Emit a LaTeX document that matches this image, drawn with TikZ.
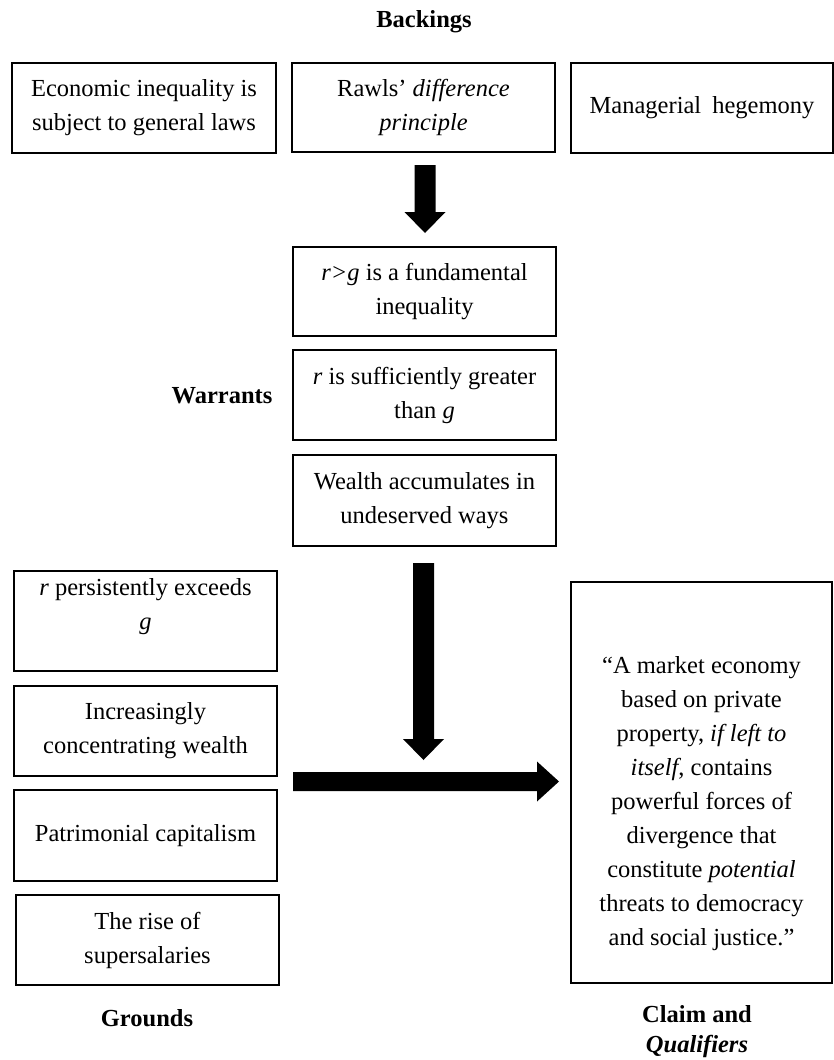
\documentclass[tikz,border=0pt]{standalone}
\usepackage{fontspec}
\setmainfont{Liberation Serif}
\usetikzlibrary{calc}
\newcommand\fatdown[2]{\fill ($(#1)+(-10.5,0)$) -- ($(#1)+(10.5,0)$) -- ($(#2)+(10.5,-21)$) -- ($(#2)+(20.5,-21)$) -- (#2) -- ($(#2)+(-20.5,-21)$) -- ($(#2)+(-10.5,-21)$) -- cycle;}
\newcommand\fatright[2]{\fill ($(#1)+(0,-9.5)$) -- ($(#2)+(-22,-9.5)$) -- ($(#2)+(-22,-20)$) -- (#2) -- ($(#2)+(-22,20)$) -- ($(#2)+(-22,9.5)$) -- ($(#1)+(0,9.5)$) -- cycle;}
\begin{document}
\begin{tikzpicture}[x=1pt,y=-1pt,
  box/.style={draw, line width=1.4pt, inner sep=0pt, align=center, font=\fontsize{24.5}{34}\selectfont},
  lbl/.style={font=\fontsize{24.5}{30}\selectfont\bfseries, align=center, inner sep=0pt}]
\useasboundingbox (0,0) rectangle (834,1060);

\node[lbl] (backings) at (424,22) {Backings};
\node[lbl] (warrants) at (222,396) {Warrants};
\node[lbl] (grounds) at (147,1018) {Grounds};
\node[lbl] (claimlbl) at (697,1032) {Claim and\\\textit{Qualifiers}};

\node[box, minimum width=264pt, minimum height=90pt] (b1) at (144,108) {Economic inequality is\\subject to general laws};
\node[box, minimum width=263pt, minimum height=89pt] (b2) at (423.5,107.5) {Rawls’ \textit{difference}\\\textit{principle}};
\node[box, minimum width=262pt, minimum height=90pt] (b3) at (702,108) {Managerial\hspace{0.45em}hegemony};

\node[box, minimum width=263pt, minimum height=89pt] (w1) at (424.5,291.5) {\textit{r>g} is a fundamental\\inequality};
\node[box, minimum width=263pt, minimum height=90pt] (w2) at (424.5,395) {\textit{r} is sufficiently greater\\than \textit{g}};
\node[box, minimum width=263pt, minimum height=91pt] (w3) at (424.5,500.5) {Wealth accumulates in\\undeserved ways};

\node[box, minimum width=263pt, minimum height=100pt] (g1) at (145.5,621) {\textit{r} persistently exceeds\\\textit{g}\\\mbox{}};
\node[box, minimum width=263pt, minimum height=90pt] (g2) at (145.5,731) {Increasingly\\concentrating wealth};
\node[box, minimum width=263pt, minimum height=91pt] (g3) at (145.5,835.5) {Patrimonial capitalism};
\node[box, minimum width=263pt, minimum height=90pt] (g4) at (147.5,940) {The rise of\\supersalaries};

\node[box, minimum width=261pt, minimum height=401pt] (claim) at (701.5,782.5) {\mbox{}\\[26pt]“A market economy\\based on private\\property, \textit{if left to}\\\textit{itself}, contains\\powerful forces of\\divergence that\\constitute \textit{potential}\\threats to democracy\\and social justice.”};

\coordinate (a1s) at (425,165);
\coordinate (a1e) at (425,233);
\coordinate (a2s) at (423.5,563);
\coordinate (a2e) at (423.5,760);
\coordinate (a3s) at (293,781.5);
\coordinate (a3e) at (559,781.5);
\fatdown{a1s}{a1e}
\fatdown{a2s}{a2e}
\fatright{a3s}{a3e}
\end{tikzpicture}
\end{document}
